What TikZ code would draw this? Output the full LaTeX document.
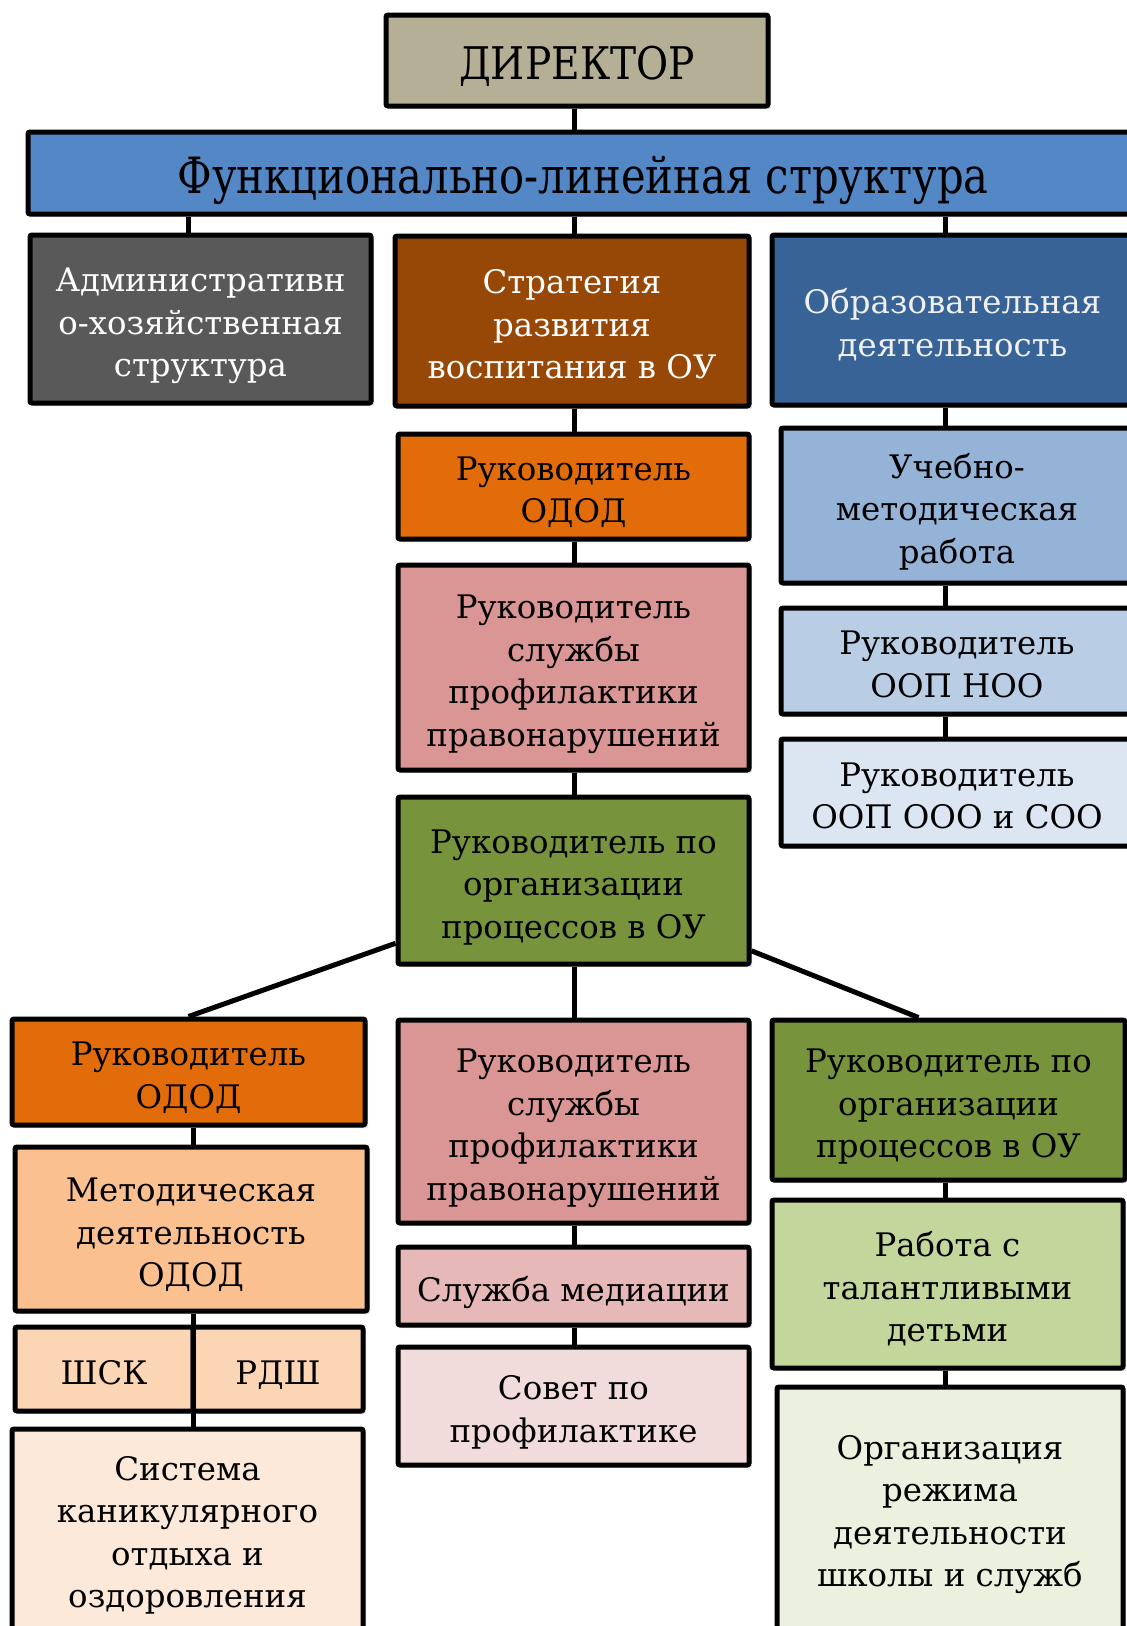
\documentclass[tikz,border=0pt]{standalone}
\usepackage{fontspec}
\setmainfont{DejaVu Serif}
\usetikzlibrary{shadows}
\usetikzlibrary{positioning}

\definecolor{dirtan}{RGB}{180,175,149}
\definecolor{barblue}{RGB}{83,135,198}
\definecolor{admgray}{RGB}{89,89,89}
\definecolor{strbrown}{RGB}{151,72,6}
\definecolor{obrblue}{RGB}{56,99,150}
\definecolor{odorange}{RGB}{227,108,10}
\definecolor{profred}{RGB}{217,150,148}
\definecolor{orggreen}{RGB}{119,147,60}
\definecolor{uchblue}{RGB}{149,179,215}
\definecolor{nooblue}{RGB}{185,205,229}
\definecolor{sooblue}{RGB}{220,230,242}
\definecolor{metorange}{RGB}{250,192,144}
\definecolor{shskorange}{RGB}{252,213,181}
\definecolor{sysorange}{RGB}{253,233,217}
\definecolor{medred}{RGB}{230,185,184}
\definecolor{sovred}{RGB}{242,220,219}
\definecolor{talgreen}{RGB}{195,214,155}
\definecolor{rejgreen}{RGB}{235,241,222}
\definecolor{lighttext}{RGB}{240,240,240}

\newcommand{\boxfont}{\fontsize{32.4}{42.5}\selectfont}
\newcommand{\topstrut}{\rule{0pt}{44pt}}
\tikzset{textpad/.style 2 args={execute at begin node={\rule{0pt}{#1}}, execute at end node={\rule[-#2]{0pt}{#2}}}}
\tikzstyle{box}=[rectangle, draw=black, line width=5pt, rounded corners=2pt, inner sep=0pt, align=center, font=\boxfont, drop shadow={shadow xshift=3pt, shadow yshift=-3pt, opacity=0.25}]
\tikzstyle{link}=[draw, line width=5pt]

\begin{document}
\begin{tikzpicture}[x=1pt, y=-1pt]

  \useasboundingbox (0,0) rectangle (1127,1626);
  \clip (0,0) rectangle (1127,1626);

  \node[box, textpad={50pt}{12pt}, fill=dirtan, minimum width=382, minimum height=91] (dir) at (577,60.5)
       {\scalebox{0.87}[1]{\fontsize{45}{54}\selectfont ДИРЕКТОР}};
  \node[box, textpad={54pt}{14pt}, fill=barblue, minimum width=1110, minimum height=82] (bar) at (583,173)
       {\scalebox{0.834}[1]{\fontsize{50}{60}\selectfont Функционально-линейная структура}};

  \foreach \x/\y/\w/\h/\name/\fillc/\tc/\label in {
      200.5/319/341/168/adm/admgray/white/{Административн\\о-хозяйственная\\структура},
      572/321/354/170/str/strbrown/white/{Стратегия\\развития\\воспитания в ОУ},
      952.5/320/361/170/obr/obrblue/lighttext/{Образовательная\\деятельность},
      573.5/486.5/351/105/odod1/odorange/black/{Руководитель\\ОДОД},
      573.5/667.5/351/205/prof1/profred/black/{Руководитель\\службы\\профилактики\\правонарушений},
      573.5/880.5/351/167/org1/orggreen/black/{Руководитель по\\организации\\процессов в ОУ},
      957/505.5/352/155/uch/uchblue/black/{Учебно-\\методическая\\работа},
      957/661/352/106/noo/nooblue/black/{Руководитель\\ООП НОО},
      957/792.5/352/107/soo/sooblue/black/{Руководитель\\ООП ООО и СОО},
      188.5/1072/353/106/odod2/odorange/black/{Руководитель\\ОДОД},
      191/1229/352/164/met/metorange/black/{Методическая\\деятельность\\ОДОД},
      104/1369/178/84/shsk/shskorange/black/{ШСК},
      278/1369/170/84/rdsh/shskorange/black/{РДШ},
      187.5/1529/351/200/sys/sysorange/black/{Система\\каникулярного\\отдыха и\\оздоровления},
      573.5/1121.5/351/203/prof2/profred/black/{Руководитель\\службы\\профилактики\\правонарушений},
      573.5/1286/351/78/med/medred/black/{Служба медиации},
      573.5/1406/351/118/sov/sovred/black/{Совет по\\профилактике},
      948.5/1100/353/160/org2/orggreen/black/{Руководитель по\\организации\\процессов в ОУ},
      947.5/1284/351/168/tal/talgreen/black/{Работа с\\талантливыми\\детьми},
      950/1508/346/242/rej/rejgreen/black/{Организация\\режима\\деятельности\\школы и служб}}
    \node[box, textpad={0pt}{14pt}, fill=\fillc, text=\tc, minimum width=\w, minimum height=\h] (\name) at (\x,\y) {\topstrut\label};

  % columns of the connectors
  \coordinate (xa) at (188,0);
  \coordinate (xm) at (574,0);
  \coordinate (xr) at (945,0);
  \coordinate (xl) at (193,0);

  \foreach \col/\source/\dest in {xm/dir/bar, xa/bar/adm, xm/bar/str, xr/bar/obr,
      xm/str/odod1, xm/odod1/prof1, xm/prof1/org1, xr/obr/uch, xr/uch/noo, xr/noo/soo,
      xm/org1/prof2, xm/prof2/med, xm/med/sov, xl/odod2/met, xl/met/sys,
      xr/org2/tal, xr/tal/rej}
    \path[link] (\col |- \source.south) -- (\col |- \dest.north);

  \path[link] (org1) -- (odod2.north);
  \path[link] (org1) -- ([xshift=-30pt]org2.north);

\end{tikzpicture}
\end{document}
